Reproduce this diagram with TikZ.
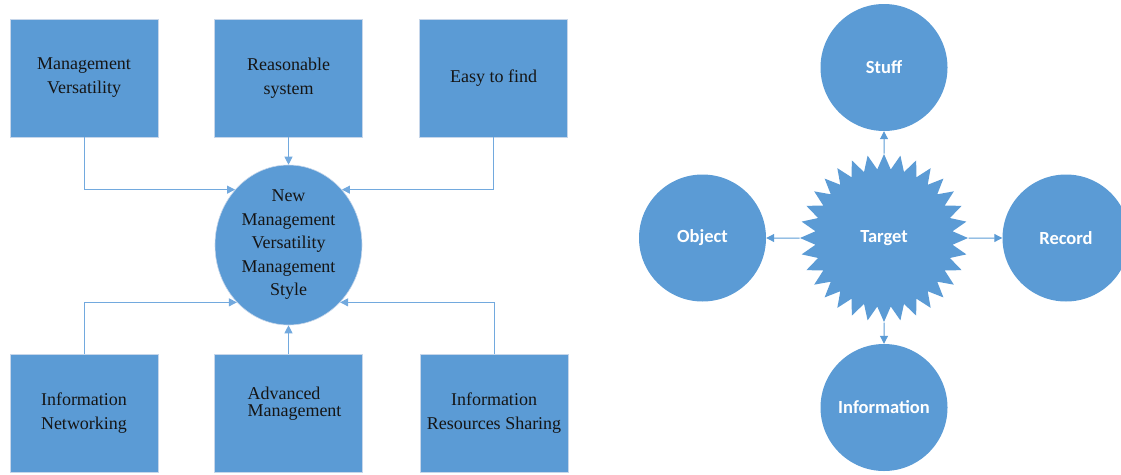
\documentclass[tikz,border=0pt]{standalone}
\usepackage{fontspec}
\setmainfont{Liberation Serif}
\newfontfamily\calib{Carlito}
\usetikzlibrary{arrows.meta,shapes.geometric}
\definecolor{ofblue}{HTML}{5B9BD5}
\definecolor{edgeblue}{HTML}{C6D6EA}
\definecolor{linkblue}{HTML}{72A9DE}
\definecolor{inktext}{HTML}{151515}

\begin{document}
\begin{tikzpicture}[x=1pt,y=-1pt,
  box/.style={rectangle, fill=ofblue, draw=edgeblue, line width=0.8pt,
    minimum width=148pt, minimum height=118pt, inner sep=0pt, align=center,
    text=inktext, font=\fontsize{18}{24}\selectfont},
  hub/.style={ellipse, fill=ofblue, draw=edgeblue, line width=0.6pt,
    minimum width=147pt, minimum height=160pt, inner sep=0pt, align=center,
    text=inktext, font=\fontsize{18}{23.5}\selectfont},
  ball/.style={circle, fill=ofblue, minimum size=127pt, inner sep=0pt,
    text=white, font=\calib\bfseries\fontsize{18.5}{22}\selectfont},
  burst/.style={star, star points=32, star point ratio=1.22, minimum size=168pt,
    inner sep=0pt, fill=ofblue, text=white,
    font=\calib\bfseries\fontsize{18.5}{22}\selectfont},
  link/.style={draw=linkblue, line width=1pt, -{Triangle[length=8pt,width=8pt]}},
  spoke/.style={draw=ofblue, line width=1pt, -{Triangle[length=8pt,width=8pt]}},
]
\useasboundingbox (0,0) rectangle (1121,474);

% ---------- left: management style ----------
\node[box] (mv)  at (84,78)    {Management\\Versatility};
\node[box] (rs)  at (288.5,78) {Reasonable\\system};
\node[box] (ef)  at (493.5,78) {Easy to find};

\node[box] (inw) at (84,413.5)    {Information\\Networking};
\node[box] (am)  at (288.5,413.5) {};
\node[align=left, text=inktext, font=\fontsize{18}{17}\selectfont, inner sep=0pt]
  (amlabel) at (294.5,404) {Advanced\\Management};
\node[box] (irs) at (494,413.5)   {Information\\Resources Sharing};

\node[hub] (nm) at (288.5,245)
  {New\\Management\\Versatility\\Management\\Style};

\draw[link] (mv.south)  |- (nm.134);
\draw[link] (ef.south)  |- (nm.46);
\draw[link] (rs) -- (nm);
\draw[link] (inw.north) |- (nm.228);
\draw[link] (irs.north) |- (nm.312);
\draw[link] (am) -- (nm);

% ---------- right: target and its four aspects ----------
\node[burst] (tg) at (884,238) {Target};
\node[ball] (st) at (884,67.5)  {Stuff};
\node[ball] (ob) at (702.5,238) {Object};
\node[ball] (rc) at (1066,238)  {Record};
\node[ball] (if) at (884,407.5) {Information};

\draw[spoke] (tg) -- (st);
\draw[spoke] (tg) -- (ob);
\draw[spoke] (tg) -- (rc);
\draw[spoke] (tg) -- (if);
\end{tikzpicture}
\end{document}
